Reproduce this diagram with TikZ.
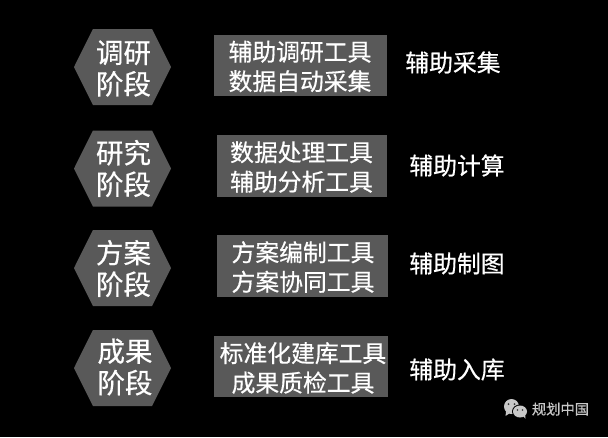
\documentclass[tikz,border=0pt]{standalone}
\usepackage{fontspec}
\setmainfont{Noto Sans CJK SC}[FakeBold=0.5]
\usetikzlibrary{shapes.symbols}

\definecolor{panelgray}{HTML}{595959}
\definecolor{logogray}{HTML}{C8C8C8}

\tikzset{
  stagehex/.style={shape=signal, signal to=east and west, signal pointer angle=127,
    fill=panelgray, minimum width=97pt, minimum height=76pt, inner sep=0pt},
  stagetext/.style={text=white, inner sep=0pt, align=center,
    font=\fontsize{27.5}{31.5}\selectfont},
  toolbox/.style={fill=panelgray, inner sep=0pt},
  tooltext/.style={text=white, inner sep=0pt, align=center,
    font=\fontsize{23.8}{29.5}\selectfont},
  funclabel/.style={text=white, inner sep=0pt, font=\fontsize{23.8}{29}\selectfont},
  marklabel/.style={text=logogray, inner sep=0pt, font=\fontsize{14.3}{16}\selectfont}
}

\begin{document}
\begin{tikzpicture}[x=1pt,y=-1pt]

    % -- Black page --
    \fill[black,use as bounding box] (0,0) rectangle (608,437);

    % -- Stage hexagons --
    \node[stagehex] (survey)  at (122.5,67)    {};
    \node[stagehex] (study)   at (122.5,168.5) {};
    \node[stagehex] (scheme)  at (122.5,268)   {};
    \node[stagehex] (result)  at (122.5,368)   {};

    \node[stagetext] (surveyname) at (123.5,68.5) {调研\\阶段};
    \node[stagetext] (studyname)  at (123.5,168.5) {研究\\阶段};
    \node[stagetext] (schemename) at (123.5,268.5) {方案\\阶段};
    \node[stagetext] (resultname) at (125,367) {成果\\阶段};

    % -- Tool boxes --
    \node[toolbox,minimum width=173pt,minimum height=61pt] (surveytool) at (300.5,65.5) {};
    \node[toolbox,minimum width=170pt,minimum height=62pt] (studytool)  at (302,166)    {};
    \node[toolbox,minimum width=171pt,minimum height=62pt] (schemetool) at (302.5,266)  {};
    \node[toolbox,minimum width=174pt,minimum height=61pt] (resulttool) at (301,366.5)  {};

    \node[tooltext] (surveylist) at (300,66.5) {辅助调研工具\\数据自动采集};
    \node[tooltext] (studylist)  at (301.5,167) {数据处理工具\\辅助分析工具};
    \node[tooltext] (schemelist) at (303,267)  {方案编制工具\\方案协同工具};
    \node[tooltext] (resultlist) at (303,368)  {标准化建库工具\\成果质检工具};

    % -- Function labels on the right --
    \node[funclabel] (surveyfunc) at (453,62.5)  {辅助采集};
    \node[funclabel] (studyfunc)  at (457,165.5) {辅助计算};
    \node[funclabel] (schemefunc) at (457,263.5) {辅助制图};
    \node[funclabel] (resultfunc) at (457,369.5) {辅助入库};

    % -- Bubble logo, bottom right --
    \fill[logogray] (511.5,406.5) ellipse (7.5 and 7.5);
    \fill[logogray] (506,412) -- (505.5,416) -- (510,413) -- cycle;
    \fill[black] (520,411.5) ellipse (8 and 7);
    \fill[logogray] (520,411.5) ellipse (7 and 6);
    \fill[logogray] (523,416) -- (525.5,418.5) -- (525,414) -- cycle;
    \fill[panelgray!60!black] (508.5,404) circle (1);
    \fill[panelgray!60!black] (514.5,404) circle (1);
    \fill[panelgray!60!black] (517.5,410) circle (0.9);
    \fill[panelgray!60!black] (522.5,410) circle (0.9);
    \node[marklabel] (marktext) at (560.5,409) {规划中国};

\end{tikzpicture}
\end{document}
